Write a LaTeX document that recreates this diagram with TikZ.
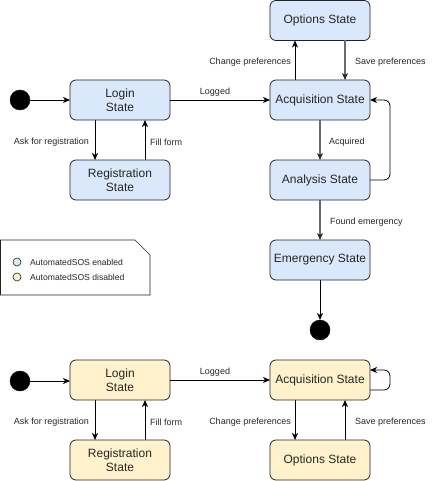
\documentclass[tikz,border=0pt]{standalone}
\usepackage{fontspec}
\setmainfont{Liberation Sans}
\usetikzlibrary{arrows.meta}
\definecolor{bluefill}{HTML}{DAE8FC}
\definecolor{yelfill}{HTML}{FFF2CC}
\definecolor{edgegray}{HTML}{6A6A6A}
\definecolor{bord}{HTML}{222222}
\tikzset{
  statebox/.style={draw=bord, line width=0.8pt, rounded corners=6pt, minimum width=100pt, minimum height=40pt, inner sep=0pt, outer sep=0pt, align=center, font=\fontsize{12}{14}\selectfont, text=black!85},
  bluestate/.style={statebox, fill=bluefill},
  yelstate/.style={statebox, fill=yelfill},
  dot/.style={circle, fill=black, draw=black, minimum size=20pt, inner sep=0pt, outer sep=0pt},
  arr/.style={-{Stealth[length=7pt,width=6pt,inset=2pt]}, line width=0.8pt, black},
  grayarr/.style={-{Stealth[length=7pt,width=6pt,inset=2pt,color=black!85]}, draw=edgegray, line width=1.1pt},
  lbl/.style={font=\fontsize{9}{10}\selectfont, text=black!85, inner sep=0pt},
  legdot/.style={circle, draw=bord, line width=0.6pt, minimum size=8pt, inner sep=0pt},
  legtxt/.style={font=\fontsize{8.6}{10}\selectfont, text=black!85, inner sep=0pt, anchor=west}
}
\begin{document}
\begin{tikzpicture}[x=1pt,y=-1pt]
\useasboundingbox (0,0) rectangle (436,481);
% ---- top (enabled) ----
\node[dot] (i1) at (20,100) {};
\node[bluestate] (login1) at (120,100) {Login\\State};
\node[bluestate] (reg1) at (120,180) {Registration\\State};
\node[bluestate] (acq1) at (320,100) {Acquisition State};
\node[bluestate] (opt1) at (320,20.5) {Options State};
\node[bluestate] (ana1) at (320,180) {Analysis State};
\node[bluestate] (emg) at (320,260) {Emergency State};
\node[dot] (f1) at (320,330) {};

\draw[arr] (i1) -- (login1);
\draw[arr] (login1) -- (acq1);
\node[lbl] (lg1) at (215,92) {Logged};
\draw[arr] ([xshift=-25pt]login1.south) -- ([xshift=-25pt]reg1.north);
\node[lbl, anchor=east] (ar1) at (89,142) {Ask for registration};
\draw[arr] ([xshift=25pt]reg1.north) -- ([xshift=25pt]login1.south);
\node[lbl, anchor=west] (ff1) at (150,142) {Fill form};
\draw[arr] ([xshift=-25pt]acq1.north) -- ([xshift=-25pt]opt1.south);
\node[lbl, anchor=east] (cp1) at (291,62) {Change preferences};
\draw[grayarr] ([xshift=25pt]opt1.south) -- ([xshift=25pt]acq1.north);
\node[lbl, anchor=west] (sp1) at (355,62) {Save preferences};
\draw[grayarr] (acq1) -- (ana1);
\node[lbl, anchor=west] (aq1) at (329,142) {Acquired};
\draw[arr, rounded corners=6pt] (ana1.east) -- ++(20,0) |- (acq1.east);
\draw[grayarr] (ana1) -- (emg);
\node[lbl, anchor=west] (fe1) at (330,222) {Found emergency};
\draw[arr] (emg) -- (f1);

% ---- legend ----
\draw[draw=bord, line width=0.6pt, fill=white] (0.5,240) -- (135,240) -- (150,255) -- (150,295) -- (0.5,295) -- cycle;
\node[legdot, fill=bluefill] (ld1) at (17,262) {};
\node[legtxt] (lt1) at (30,262.5) {AutomatedSOS enabled};
\node[legdot, fill=yelfill] (ld2) at (17,277) {};
\node[legtxt] (lt2) at (30,277.5) {AutomatedSOS disabled};

% ---- bottom (disabled) ----
\node[dot] (i2) at (20,381) {};
\node[yelstate] (login2) at (120,380) {Login\\State};
\node[yelstate] (reg2) at (120,460) {Registration\\State};
\node[yelstate] (acq2) at (320,380) {Acquisition State};
\node[yelstate] (opt2) at (320,460) {Options State};

\draw[arr] (i2) -- (i2 -| login2.west);
\draw[arr] (login2) -- (acq2);
\node[lbl] (lg2) at (215,372) {Logged};
\draw[arr] ([xshift=-25pt]login2.south) -- ([xshift=-25pt]reg2.north);
\node[lbl, anchor=east] (ar2) at (89,422) {Ask for registration};
\draw[arr] ([xshift=25pt]reg2.north) -- ([xshift=25pt]login2.south);
\node[lbl, anchor=west] (ff2) at (150,422) {Fill form};
\draw[arr] ([xshift=-25pt]acq2.south) -- ([xshift=-25pt]opt2.north);
\node[lbl, anchor=east] (cp2) at (291,422) {Change preferences};
\draw[arr] ([xshift=25pt]opt2.north) -- ([xshift=25pt]acq2.south);
\node[lbl, anchor=west] (sp2) at (355,422) {Save preferences};
\draw[arr, rounded corners=6pt] ([yshift=-10pt]acq2.east) -- ++(20,0) |- ([yshift=10pt]acq2.east);
\end{tikzpicture}
\end{document}
